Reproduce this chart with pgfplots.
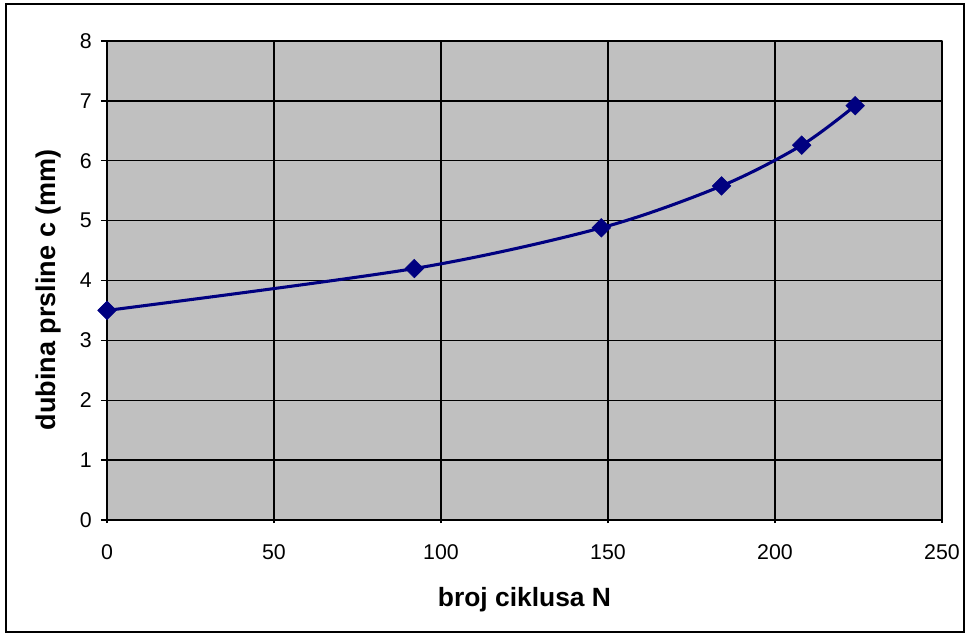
\documentclass[border=0pt]{standalone}
\usepackage{pgfplots}
\pgfplotsset{compat=1.18}
\usepackage{fontspec}
\setmainfont{Liberation Sans}
\definecolor{plotgray}{RGB}{192,192,192}
\definecolor{navyline}{RGB}{0,0,128}
\begin{document}
\begin{tikzpicture}
\useasboundingbox (0pt,0pt) rectangle (725.25pt,477pt);
\draw[line width=1.5pt] (4.5pt,3pt) rectangle (723pt,474pt);
\begin{axis}[
  at={(80.25pt,87pt)}, anchor=south west,
  scale only axis, width=626.25pt, height=359.25pt,
  xmin=0, xmax=250, ymin=0, ymax=8,
  xtick={0,50,...,250}, ytick={0,1,...,8},
  axis x line*=bottom, axis y line*=left,
  axis line style={black, line width=1.1pt},
  axis background/.style={fill=plotgray, draw=gray, line width=1pt},
  grid=major, major grid style={black, line width=1.1pt},
  major tick length=4.5pt,
  every tick/.style={black, line width=1.1pt},
  x tick style={/pgfplots/tick align=center},
  y tick style={/pgfplots/tick align=outside},
  tick label style={font=\fontsize{16}{19}\selectfont},
  /pgf/number format/assume math mode=true,
  xticklabel style={anchor=center, yshift=-24pt},
  yticklabel style={anchor=east, xshift=-8pt},
  xlabel={\textbf{broj ciklusa N}},
  ylabel={\textbf{dubina prsline c (mm)}},
  xlabel style={font=\fontsize{19.8}{23}\selectfont, at={(axis description cs:0.5,0)}, anchor=center, yshift=-60pt},
  ylabel style={font=\fontsize{20.3}{23}\selectfont, at={(axis description cs:0,0.5)}, anchor=center, yshift=43.5pt, xshift=-7pt},
  clip=false,
]
\addplot[navyline, line width=2.3pt, smooth, mark=square*, mark size=4.9pt,
  mark options={rotate=45, fill=navyline, draw=navyline, line width=0.5pt}]
  coordinates {(0,3.5) (92,4.2) (148,4.88) (184,5.58) (208,6.26) (224,6.92)};
\end{axis}
\end{tikzpicture}
\end{document}
